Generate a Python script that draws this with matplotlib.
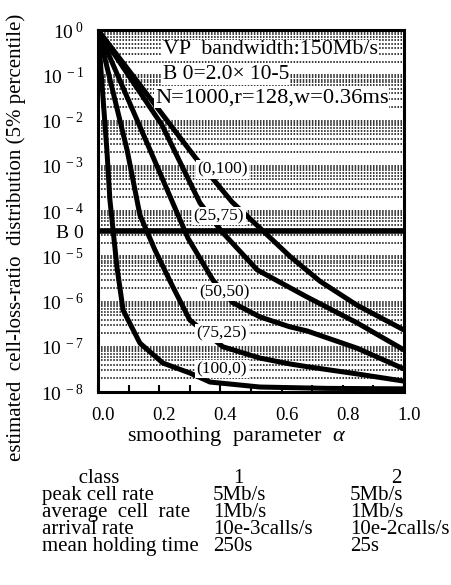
import numpy as np
import matplotlib.pyplot as plt
import matplotlib.transforms as mtransforms
from matplotlib.ticker import FixedLocator, MultipleLocator, NullFormatter

plt.rcParams['font.family'] = ['Liberation Serif', 'DejaVu Serif']
plt.rcParams['mathtext.fontset'] = 'custom'
plt.rcParams['mathtext.rm'] = 'Liberation Serif'
plt.rcParams['mathtext.it'] = 'Liberation Serif:italic'

# ==========================
# DATA
# x = smoothing parameter, y = log10 of cell-loss-ratio
# ==========================

alpha_0_100 = [0.0, 0.317, 0.438, 0.536, 0.627, 0.725, 0.846, 1.0]
log_0_100 = [0.0, -2.81, -3.80, -4.42, -5.00, -5.55, -6.08, -6.63]

alpha_25_75 = [0.0, 0.209, 0.333, 0.405, 0.52, 0.683, 0.846, 1.0]
log_25_75 = [0.0, -2.10, -3.82, -4.46, -5.30, -5.90, -6.47, -7.07]

alpha_50_50 = [0.0, 0.170, 0.294, 0.376, 0.441, 0.529, 0.627, 0.683, 0.846, 1.0]
log_50_50 = [0.0, -2.65, -4.60, -5.53, -6.03, -6.34, -6.56, -6.65, -7.03, -7.49]

alpha_75_25 = [0.0, 0.095, 0.137, 0.186, 0.242, 0.30, 0.408, 0.529, 0.627, 0.683, 0.846, 1.0]
log_75_25 = [0.0, -2.65, -4.09, -4.86, -5.64, -6.41, -7.00, -7.25, -7.38, -7.44, -7.60, -7.76]

alpha_100_0 = [0.0, 0.029, 0.039, 0.062, 0.082, 0.137, 0.212, 0.30, 0.366, 0.529, 0.75, 1.0]
log_100_0 = [0.0, -2.65, -3.76, -5.24, -6.19, -6.92, -7.36, -7.58, -7.78, -7.89, -7.92, -7.93]

curve_names = ["(0,100)", "(25,75)", "(50,50)", "(75,25)", "(100,0)"]
curve_alphas = [alpha_0_100, alpha_25_75, alpha_50_50, alpha_75_25, alpha_100_0]
curve_logs = [log_0_100, log_25_75, log_50_50, log_75_25, log_100_0]

# label spots on the curves (alpha, log10)
label_alpha = [0.408, 0.395, 0.412, 0.405, 0.405]
label_log = [-3.09, -4.11, -5.79, -6.70, -7.49]

# threshold line as drawn (text says B0 = 2.0 x 10-5)
b0_level = 3.6e-5

decades = [0, -1, -2, -3, -4, -5, -6, -7, -8]
xtick_vals = [0.0, 0.2, 0.4, 0.6, 0.8, 1.0]

info_lines = ["VP  bandwidth:150Mb/s", "B 0=2.0\u00d7 10-5", "N=1000,r=128,w=0.36ms"]

table_rows = ["peak cell rate", "average  cell  rate", "arrival rate", "mean holding time"]
table_class1 = ["5Mb/s", "1Mb/s", "10e-3calls/s", "250s"]
table_class2 = ["5Mb/s", "1Mb/s", "10e-2calls/s", "25s"]

# ==========================
# FIGURE
# ==========================

W, H = 451, 585
fig = plt.figure(figsize=(W / 100, H / 100), dpi=100)
ax = fig.add_axes([98 / W, 1 - 392 / H, 306 / W, 362 / H])

ax.set_yscale("log")
ax.set_xlim(0, 1)
ax.set_ylim(1e-8, 1)

# dense dotted grid gives the striped look of the scan
ax.yaxis.set_minor_locator(FixedLocator([m * 10.0 ** d for d in range(-8, 0) for m in range(2, 10)]))
ax.yaxis.set_minor_formatter(NullFormatter())
ax.grid(which="both", axis="y", color="black", linestyle=(0, (1, 1)), linewidth=1.1)
ax.grid(which="both", axis="x", visible=False)

for name, xs, ls in zip(curve_names, curve_alphas, curve_logs):
    ax.plot(xs, 10.0 ** np.array(ls), color="black", linewidth=3.6,
            solid_capstyle="butt", solid_joinstyle="round", zorder=3)

ax.axhline(b0_level, color="black", linewidth=4.0, zorder=3)

for name, lx, ly in zip(curve_names, label_alpha, label_log):
    ax.text(lx, 10.0 ** ly, name, fontsize=12.5, ha="center", va="center", zorder=5,
            bbox=dict(facecolor="white", edgecolor="none", pad=1.0))

info_x = [0.212, 0.212, 0.186]
info_y = [-0.44, -0.99, -1.50]
info_size = [15.8, 15.5, 16.2]
for txt, tx, ty, fs in zip(info_lines, info_x, info_y, info_size):
    ax.text(tx, 10.0 ** ty, txt, fontsize=fs, ha="left", va="center", zorder=5,
            bbox=dict(facecolor="white", edgecolor="none", pad=0.5))

# ticks
ax.set_xticks(xtick_vals)
ax.set_xticklabels(["%.1f" % v for v in xtick_vals], fontsize=13.5)
ax.xaxis.set_minor_locator(MultipleLocator(0.1))
ax.tick_params(axis="x", which="both", direction="in", length=5, width=1.5, pad=11)
shift = mtransforms.ScaledTranslation(5 / 100, 0, fig.dpi_scale_trans)
for lab in ax.get_xticklabels():
    lab.set_transform(lab.get_transform() + shift)

ytick_vals = [10.0 ** d for d in decades] + [b0_level]
ytick_labels = [r"$10^{\ %d}$" % d for d in decades] + ["B 0"]
ax.set_yticks(ytick_vals)
ax.set_yticklabels(ytick_labels, fontsize=14)
ax.tick_params(axis="y", which="both", length=0, pad=10)

for s in ax.spines.values():
    s.set_linewidth(2.2)

fig.text(237 / W, 1 - 437 / H, r"smoothing  parameter  $\mathit{\alpha}$", fontsize=16,
         ha="center", va="center")

fig.text(16 / W, 1 - 237 / H, "estimated  cell-loss-ratio  distribution (5% percentile)",
         rotation=90, fontsize=15, ha="center", va="center")

# ==========================
# TABLE UNDER THE CHART (one text block per column)
# ==========================

col0 = "\n".join(["       class"] + table_rows)
col1 = "\n".join(["    1"] + table_class1)
col2 = "\n".join(["        2"] + table_class2)

for txt, cx in zip([col0, col1, col2], [42, 213, 350]):
    fig.text(cx / W, 1 - 469 / H, txt, fontsize=15, va="top", ha="left",
             linespacing=0.86)

fig.savefig("out.png", dpi=100)
